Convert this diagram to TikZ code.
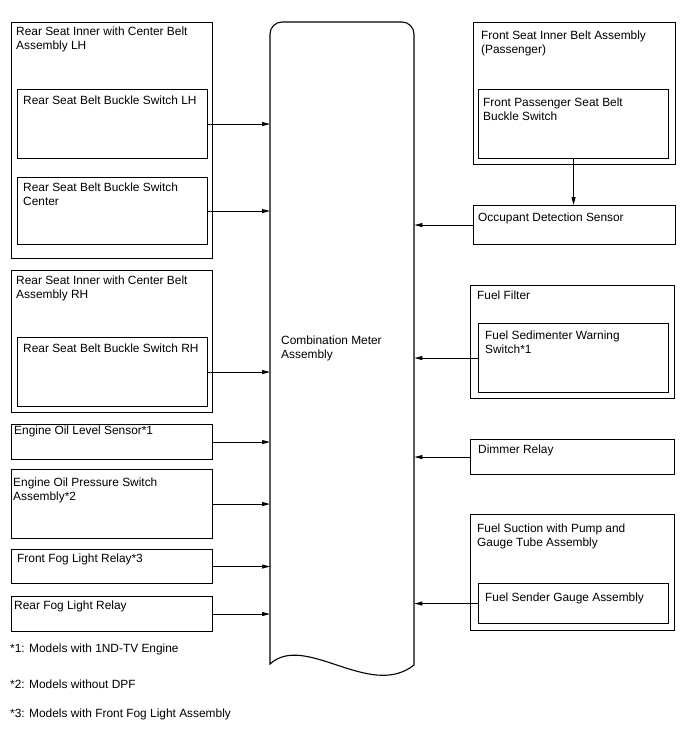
\documentclass[tikz,border=0pt]{standalone}
\usepackage{fontspec}
\setmainfont{Liberation Sans}
\usetikzlibrary{positioning,arrows.meta}

\begin{document}
\begin{tikzpicture}[x=1pt, y=-1pt,
    box/.style={draw, line width=1.1pt, anchor=north west, inner sep=0pt},
    lbl/.style={anchor=north west, align=left, inner sep=0pt, font=\fontsize{11.9}{13.5}\selectfont},
    sig/.style={line width=0.9pt, -{Triangle[length=8pt,width=4pt]}}]
    \useasboundingbox (0,0) rectangle (688,755);

    % Combination meter (document shape)
    \node[anchor=north west, inner sep=0pt, minimum width=144pt, minimum height=643pt] (cm) at (270,22) {};
    \draw[line width=1.1pt] (270,664) -- (270,34) arc[start angle=180, end angle=270, radius=12]
        -- (402,22) arc[start angle=270, end angle=360, radius=12] -- (414,665)
        .. controls (370,700) and (305,632) .. (270,664) -- cycle;
    \node[lbl] (cmT) at (281,336) {Combination Meter\\Assembly};

    % Left side
    \node[box, minimum width=201pt, minimum height=236pt] (rlh) at (11,22) {};
    \node[lbl] (rlhT) at ([shift={(5,5)}]rlh.north west) {Rear Seat Inner with Center Belt\\Assembly LH};
    \node[box, minimum width=190pt, minimum height=69pt] (bsl) at (17,89) {};
    \node[lbl] (bslT) at ([shift={(6,7)}]bsl.north west) {Rear Seat Belt Buckle Switch LH};
    \node[box, minimum width=190pt, minimum height=67pt] (bsc) at (17,177) {};
    \node[lbl] (bscT) at ([shift={(6,6)}]bsc.north west) {Rear Seat Belt Buckle Switch\\Center};

    \node[box, minimum width=201pt, minimum height=142pt] (rrh) at (11,270) {};
    \node[lbl] (rrhT) at ([shift={(5,6)}]rrh.north west) {Rear Seat Inner with Center Belt\\Assembly RH};
    \node[box, minimum width=190pt, minimum height=69pt] (bsr) at (17,337) {};
    \node[lbl] (bsrT) at ([shift={(6,7)}]bsr.north west) {Rear Seat Belt Buckle Switch RH};

    \node[box, minimum width=201pt, minimum height=35pt] (ols) at (11,424) {};
    \node[lbl] (olsT) at ([shift={(3,2)}]ols.north west) {Engine Oil Level Sensor*1};
    \node[box, minimum width=201pt, minimum height=69pt] (ops) at (11,469) {};
    \node[lbl] (opsT) at ([shift={(2,9)}]ops.north west) {Engine Oil Pressure Switch\\Assembly*2};
    \node[box, minimum width=201pt, minimum height=34pt] (ffr) at (11,549) {};
    \node[lbl] (ffrT) at ([shift={(6,5)}]ffr.north west) {Front Fog Light Relay*3};
    \node[box, minimum width=201pt, minimum height=35pt] (rfr) at (11,596) {};
    \node[lbl] (rfrT) at ([shift={(3,5)}]rfr.north west) {Rear Fog Light Relay};

    % Right side
    \node[box, minimum width=202pt, minimum height=142pt] (fsi) at (473,22) {};
    \node[lbl] (fsiT) at ([shift={(8,9)}]fsi.north west) {Front Seat Inner Belt Assembly\\(Passenger)};
    \node[box, minimum width=190pt, minimum height=69pt] (fps) at (478,89) {};
    \node[lbl] (fpsT) at ([shift={(5,9)}]fps.north west) {Front Passenger Seat Belt\\Buckle Switch};
    \node[box, minimum width=202pt, minimum height=39pt] (ods) at (473,205) {};
    \node[lbl] (odsT) at ([shift={(5,8)}]ods.north west) {Occupant Detection Sensor};

    \node[box, minimum width=204pt, minimum height=113pt] (ffl) at (470,285) {};
    \node[lbl] (fflT) at ([shift={(7,6)}]ffl.north west) {Fuel Filter};
    \node[box, minimum width=190pt, minimum height=69pt] (fsw) at (478,323) {};
    \node[lbl] (fswT) at ([shift={(7,8)}]fsw.north west) {Fuel Sedimenter Warning\\Switch*1};

    \node[box, minimum width=204pt, minimum height=35pt] (dim) at (470,439) {};
    \node[lbl] (dimT) at ([shift={(8,6)}]dim.north west) {Dimmer Relay};

    \node[box, minimum width=204pt, minimum height=116pt] (fsp) at (470,514) {};
    \node[lbl] (fspT) at ([shift={(7,10)}]fsp.north west) {Fuel Suction with Pump and\\Gauge Tube Assembly};
    \node[box, minimum width=190pt, minimum height=40pt] (fsg) at (478,583) {};
    \node[lbl] (fsgT) at ([shift={(7,10)}]fsg.north west) {Fuel Sender Gauge Assembly};

    % Signals into the meter
    \foreach \s in {bsl, bsc, bsr, ols, ops, ffr, rfr}
        \draw[sig] (\s.east) -- (cm.west |- \s.east);
    \foreach \s in {ods, fsw, dim, fsg}
        \draw[sig] (\s.west) -- (cm.east |- \s.west);
    \draw[sig] (fps.south) -- (ods.north -| fps.south);

    % Notes
    \node[lbl] (n1) at (10,644) {*1: Models with 1ND-TV Engine};
    \node[lbl] (n2) at (10,680) {*2: Models without DPF};
    \node[lbl] (n3) at (10,709) {*3: Models with Front Fog Light Assembly};
\end{tikzpicture}
\end{document}
